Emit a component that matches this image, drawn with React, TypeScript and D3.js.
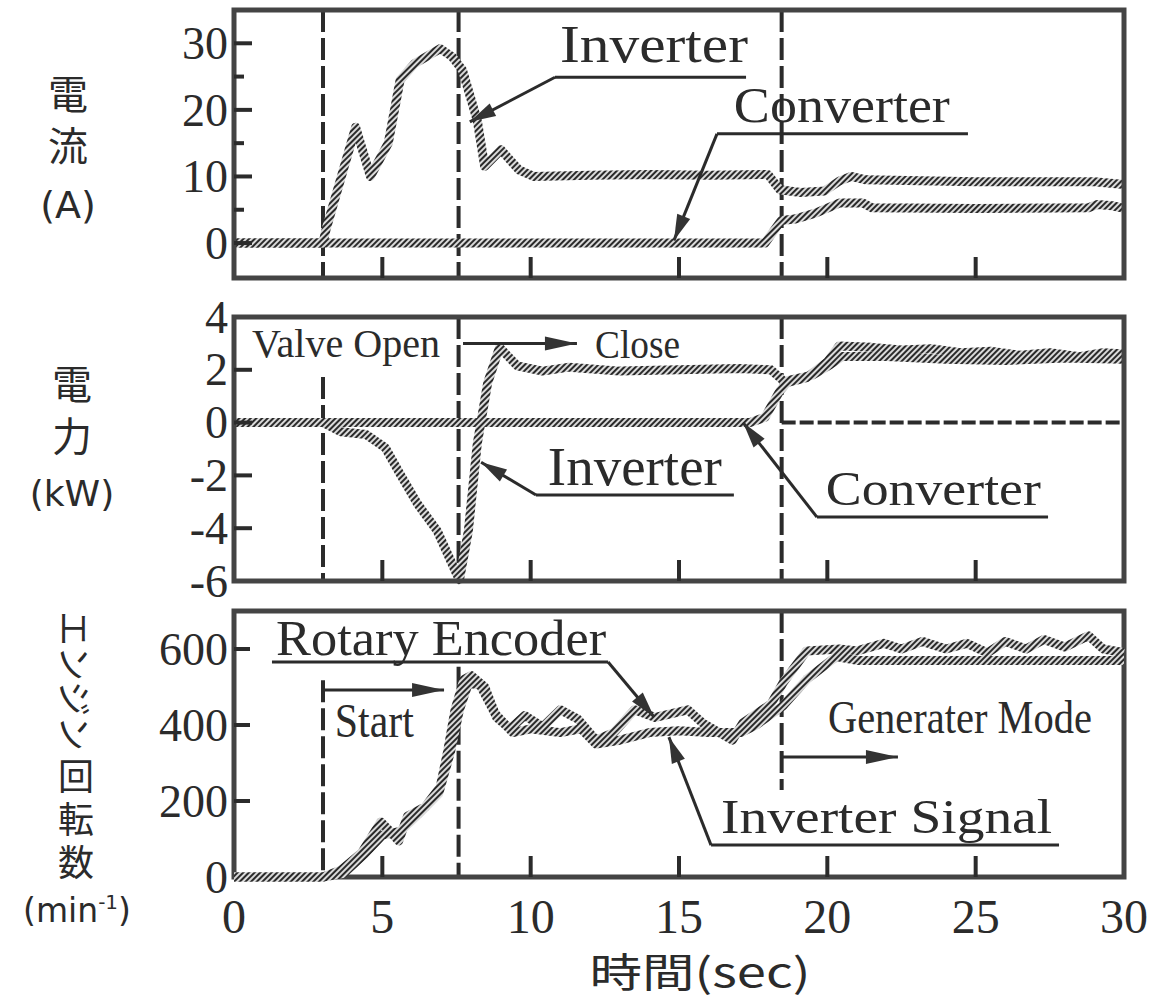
import React from 'react';
import * as d3 from 'd3';

// time axis (sec)
const timeTicks = [0, 5, 10, 15, 20, 25, 30];
const eventTimes = [3.0, 7.57, 18.46];

// 電流 (A)
const currentTicks = [0, 10, 20, 30];
const currentMinor = [5, 15, 25];
const currentInverter: [number, number][] = [
  [0, 0], [3, 0], [3.1, 2], [4.1, 17.4], [4.6, 10], [5.2, 15], [5.6, 24.5], [6.1, 27],
  [6.95, 29.2], [7.35, 28], [7.7, 26], [8.2, 18.4], [8.45, 11.5], [9.0, 14], [9.6, 11],
  [10.1, 10], [12, 10.2], [14, 10.3], [16, 10.2], [18.0, 10.3], [18.4, 8], [19.1, 7.6],
  [19.9, 7.8], [20.4, 9.3], [20.8, 10.0], [21.3, 9.5], [25, 9.2], [29, 9.2], [30, 8.8],
];
const currentConverter: [number, number][] = [
  [0, 0], [17.9, 0], [18.45, 3.4], [18.9, 3.6], [19.6, 4.5], [20.4, 6], [21.2, 6],
  [21.5, 5.3], [25, 5.2], [28.8, 5.3], [29.1, 5.8], [29.6, 5.6], [30, 5.2],
];

// 電力 (kW)
const powerTicks = [-6, -4, -2, 0, 2, 4];
const powerMarks = [-4, -2, 0, 2];
const powerInverter: [number, number][] = [
  [0, 0], [3, 0], [3.6, -0.35], [4.45, -0.45], [5.1, -0.95], [5.6, -1.95], [6.2, -3.1],
  [6.85, -4.1], [7.45, -5.6], [7.6, -5.95], [7.9, -4.1], [8.2, -0.8], [8.55, 1.5],
  [8.95, 2.85], [9.55, 2.15], [10.4, 1.95], [11.3, 2.1], [13, 1.95], [15, 2.0], [17, 2.05],
  [18.1, 2.0], [18.6, 1.5], [19.3, 1.7], [20.0, 2.3], [20.4, 2.9], [21.5, 2.85], [22.5, 2.75],
  [23.5, 2.8], [24.5, 2.65], [25.5, 2.7], [26.5, 2.55], [27.5, 2.65], [28.5, 2.5],
  [29.3, 2.65], [30, 2.6],
];
const powerConverter: [number, number][] = [
  [0, 0], [17.4, 0], [17.9, 0.2], [18.4, 1.2], [18.7, 1.6], [19.5, 1.8], [20.1, 2.2],
  [20.5, 2.5], [22, 2.5], [24, 2.4], [26, 2.35], [28, 2.45], [30, 2.4],
];

// エンジン回転数 (min-1)
const speedTicks = [0, 200, 400, 600];
const speedEncoder: [number, number][] = [
  [0, 0], [3, 0], [3.6, 18], [4.3, 63], [4.95, 145], [5.2, 125], [5.55, 95], [5.85, 160],
  [6.45, 185], [6.95, 237], [7.2, 330], [7.45, 440], [7.75, 520], [8.0, 530], [8.45, 500],
  [8.85, 420], [9.3, 390], [9.8, 425], [10.4, 395], [11.0, 440], [11.6, 415], [12.2, 360],
  [12.8, 380], [13.5, 440], [14.2, 420], [15.3, 440], [15.8, 405], [16.8, 360], [17.15, 405],
  [18.1, 455], [18.5, 510], [19.3, 595], [20.4, 600], [21, 595], [21.9, 615], [22.5, 600],
  [23.2, 620], [24, 600], [24.7, 615], [25.4, 590], [26, 620], [26.7, 600], [27.3, 625],
  [28, 605], [28.8, 635], [29.3, 600], [30, 590],
];
const speedSignal: [number, number][] = [
  [0, 0], [3, 0], [3.7, 10], [4.4, 60], [5, 110], [5.6, 120], [6.2, 165], [6.9, 220],
  [7.3, 330], [7.6, 440], [7.9, 510], [8.3, 505], [8.8, 430], [9.4, 380], [10, 390],
  [11, 380], [11.7, 390], [12.2, 350], [13, 360], [14, 380], [15, 385], [16, 380],
  [17.1, 380], [17.6, 400], [18.5, 450], [19.3, 520], [20.3, 580], [21, 570], [30, 570],
];

const SERIF = '"Liberation Serif", "DejaVu Serif", serif';
const JP = '"Noto Sans CJK JP", "Noto Sans", sans-serif';
const SANS = '"DejaVu Sans", "Liberation Sans", sans-serif';
const INK = '#2b2b2b';

type Pt = [number, number];

// filled arrow head at (x2,y2) pointing away from (x1,y1)
function headPath(x1: number, y1: number, x2: number, y2: number, len = 26, half = 7) {
  const L = Math.hypot(x2 - x1, y2 - y1) || 1;
  const ux = (x2 - x1) / L, uy = (y2 - y1) / L;
  const bx = x2 - ux * len, by = y2 - uy * len;
  return `M${x2},${y2}L${bx - uy * half},${by + ux * half}L${bx + uy * half},${by - ux * half}Z`;
}

export default function App() {
  const W = 1161, H = 1003;
  const x = d3.scaleLinear().domain([0, 30]).range([234, 1124]);
  const yCur = d3.scaleLinear().domain([-5.25, 35]).range([278, 10]);
  const yPow = d3.scaleLinear().domain([-6, 4]).range([581, 317]);
  const ySpd = d3.scaleLinear().domain([0, 700]).range([877, 611]);

  const path = (y: d3.ScaleLinear<number, number>, data: Pt[]) =>
    d3.line<Pt>().x((d) => x(d[0])).y((d) => y(d[1]))(data) || '';

  const frame = (y: d3.ScaleLinear<number, number>) => {
    const [b, t] = y.range();
    return (
      <rect x={x(0)} y={t} width={x(30) - x(0)} height={b - t}
        fill="none" stroke="#444" strokeWidth={5} />
    );
  };

  const xTickMarks = (y: d3.ScaleLinear<number, number>) =>
    timeTicks.slice(1, -1).map((t) => (
      <line key={t} x1={x(t)} x2={x(t)} y1={y.range()[0]} y2={y.range()[0] - 21}
        stroke={INK} strokeWidth={4} />
    ));

  const yTickMarks = (y: d3.ScaleLinear<number, number>, vals: number[], len: number) =>
    vals.map((v) => (
      <line key={`${v}-${len}`} x1={x(0)} x2={x(0) + len} y1={y(v)} y2={y(v)}
        stroke={INK} strokeWidth={4} />
    ));

  const yLabels = (y: d3.ScaleLinear<number, number>, vals: number[]) =>
    vals.map((v) => (
      <text key={v} x={228} y={y(v)} dy="0.34em" textAnchor="end"
        fontFamily={SERIF} fontSize={46} fill={INK}>{String(v)}</text>
    ));

  const vDash = (t: number, y0: number, y1: number) => (
    <line key={`${t}-${y0}`} x1={x(t)} x2={x(t)} y1={y0} y2={y1}
      stroke={INK} strokeWidth={4} strokeDasharray="22 6" />
  );

  const dataLine = (y: d3.ScaleLinear<number, number>, data: Pt[], key: string) => (
    <path key={key} d={path(y, data)} fill="none" stroke="url(#hatch)" strokeWidth={9}
      strokeLinejoin="round" strokeLinecap="butt" />
  );

  // label with underline and a leader arrow
  const callout = (
    y: d3.ScaleLinear<number, number>, label: string, tx: number, tv: number, len: number,
    fs: number, u0: number, u1: number, uv: number, tipT: number, tipV: number, fromRight = false,
  ) => {
    const sx = x(fromRight ? u1 : u0), sy = y(uv);
    const ex = x(tipT), ey = y(tipV);
    return (
      <g key={label + tx}>
        <text x={x(tx)} y={y(tv)} fontFamily={SERIF} fontSize={fs} fill={INK}
          textLength={len} lengthAdjust="spacingAndGlyphs">{label}</text>
        <line x1={x(u0)} x2={x(u1)} y1={sy} y2={sy} stroke={INK} strokeWidth={3} />
        <line x1={sx} y1={sy} x2={ex} y2={ey} stroke={INK} strokeWidth={3} />
        <path d={headPath(sx, sy, ex, ey)} fill="#333" />
      </g>
    );
  };

  const hArrow = (y: d3.ScaleLinear<number, number>, t0: number, t1: number, v: number) => (
    <g key={`${t0}-${v}`}>
      <line x1={x(t0)} x2={x(t1)} y1={y(v)} y2={y(v)} stroke={INK} strokeWidth={3} />
      <path d={headPath(x(t0), y(v), x(t1), y(v), 32, 7)} fill="#333" />
    </g>
  );

  const plain = (y: d3.ScaleLinear<number, number>, label: string, t: number, v: number,
    fs: number, len: number) => (
    <text key={label} x={x(t)} y={y(v)} fontFamily={SERIF} fontSize={fs} fill={INK}
      textLength={len} lengthAdjust="spacingAndGlyphs">{label}</text>
  );

  return (
    <svg width={W} height={H} viewBox={`0 0 ${W} ${H}`}
      style={{ position: 'absolute', left: 0, top: 0, background: '#fff' }}>
      <defs>
        <pattern id="hatch" width="4" height="4" patternUnits="userSpaceOnUse"
          patternTransform="rotate(45)">
          <rect width="4" height="4" fill="#dadada" />
          <rect width="2" height="4" fill="#2a2a2a" />
        </pattern>
      </defs>
      <rect width={W} height={H} fill="#fff" />

      {/* ---- panel 1: current ---- */}
      {eventTimes.map((t) => vDash(t, yCur.range()[1], yCur.range()[0]))}
      {dataLine(yCur, currentConverter, 'cc')}
      {dataLine(yCur, currentInverter, 'ci')}
      {frame(yCur)}
      {xTickMarks(yCur)}
      {yTickMarks(yCur, currentTicks, 18)}
      {yTickMarks(yCur, currentMinor, 10)}
      {yLabels(yCur, currentTicks)}
      {callout(yCur, 'Inverter', 10.99, 27.2, 188, 52, 10.82, 17.26, 24.9, 7.95, 18.2)}
      {callout(yCur, 'Converter', 16.85, 18.2, 216, 50, 16.28, 24.74, 16.4, 14.83, 0.4)}

      {/* ---- panel 2: power ---- */}
      {vDash(eventTimes[0], yPow(1.73), yPow.range()[0])}
      {vDash(eventTimes[1], yPow.range()[1], yPow.range()[0])}
      {vDash(eventTimes[2], yPow.range()[1], yPow.range()[0])}
      <line x1={x(eventTimes[2])} x2={x(30)} y1={yPow(0)} y2={yPow(0)}
        stroke={INK} strokeWidth={4} strokeDasharray="14 4" />
      {dataLine(yPow, powerConverter, 'pc')}
      {dataLine(yPow, powerInverter, 'pi')}
      {frame(yPow)}
      {xTickMarks(yPow)}
      {yTickMarks(yPow, powerMarks, 18)}
      {yLabels(yPow, powerTicks)}
      {plain(yPow, 'Valve Open', 0.61, 2.48, 40, 188)}
      {hArrow(yPow, 7.72, 11.56, 3.0)}
      {plain(yPow, 'Close', 12.17, 2.45, 40, 85)}
      {callout(yPow, 'Inverter', 10.58, -2.36, 174, 54, 10.18, 16.85, -2.74, 8.33, -1.5)}
      {callout(yPow, 'Converter', 19.95, -3.12, 215, 48, 19.65, 27.44, -3.58, 17.16, 0)}

      {/* ---- panel 3: engine speed ---- */}
      {vDash(eventTimes[0], ySpd(518), ySpd.range()[0])}
      {vDash(eventTimes[1], ySpd(553), ySpd.range()[0])}
      {vDash(eventTimes[2], ySpd.range()[1], ySpd(229))}
      {frame(ySpd)}
      {dataLine(ySpd, speedSignal, 'ss')}
      {dataLine(ySpd, speedEncoder, 'se')}
      {xTickMarks(ySpd)}
      {yTickMarks(ySpd, speedTicks.slice(1), 16)}
      {yLabels(ySpd, speedTicks)}
      {callout(ySpd, 'Rotary Encoder', 1.42, 584, 330, 50, 1.28, 12.61, 566, 14.16, 421, true)}
      {hArrow(ySpd, eventTimes[0], 7.08, 492)}
      {plain(ySpd, 'Start', 3.4, 368, 48, 79)}
      {hArrow(ySpd, eventTimes[2], 22.38, 316)}
      {plain(ySpd, 'Generater Mode', 20.02, 379, 46, 264)}
      {callout(ySpd, 'Inverter Signal', 16.42, 116, 331, 48, 16.08, 27.81, 84, 14.66, 368)}

      {/* x axis labels */}
      {timeTicks.map((t) => (
        <text key={t} x={x(t)} y={933} textAnchor="middle" fontFamily={SERIF}
          fontSize={48} fill={INK}>{String(t)}</text>
      ))}
      <text x={700} y={987} textAnchor="middle" fontFamily={JP} fontSize={40} fill={INK}
        textLength={221} lengthAdjust="spacingAndGlyphs">時間(sec)</text>

      {/* y axis titles, written vertically */}
      <g fill={INK}>
        <text x={68} y={74} fontFamily={JP} fontSize={40} letterSpacing={12}
          style={{ writingMode: 'vertical-rl' }}>電流</text>
        <text x={68} y={218} fontFamily={SANS} fontSize={38} textAnchor="middle">(A)</text>
        <text x={72} y={364} fontFamily={JP} fontSize={40} letterSpacing={12}
          style={{ writingMode: 'vertical-rl' }}>電力</text>
        <text x={72} y={506} fontFamily={SANS} fontSize={36} textAnchor="middle">(kW)</text>
        <text transform="translate(76,681) rotate(90)" fontFamily={JP} fontSize={35}
          textAnchor="middle" dominantBaseline="central">エンジン</text>
        <text x={76} y={758} fontFamily={JP} fontSize={36} letterSpacing={7}
          style={{ writingMode: 'vertical-rl' }}>回転数</text>
        <text x={77} y={922} fontFamily={SANS} fontSize={33} textAnchor="middle">(min<tspan dy={-13} fontSize={20}>-1</tspan><tspan dy={13}>)</tspan></text>
      </g>
    </svg>
  );
}
